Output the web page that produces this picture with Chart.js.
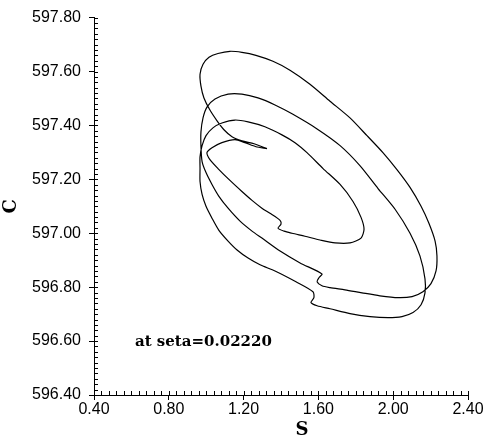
<!DOCTYPE html>
<html><head><meta charset="utf-8">
<script src="https://cdn.jsdelivr.net/npm/chart.js@4/dist/chart.umd.min.js"></script>
<style>html,body{margin:0;padding:0;background:#fff}canvas{display:block}</style>
</head><body>
<canvas id="c" width="492" height="439"></canvas>
<script>
// Trajectory in the (S, C) plane
const sValues = [
1.325,1.256,1.191,1.138,1.095,1.058,1.020,0.988,0.972,0.967,
0.983,1.015,1.063,1.127,1.191,1.266,1.357,1.448,1.555,1.662,
1.769,1.860,1.945,2.020,2.090,2.149,2.191,2.224,2.234,2.229,
2.202,2.159,2.101,2.026,1.929,1.833,1.742,1.662,1.619,1.593,
1.603,1.619,1.502,1.395,1.298,1.245,1.181,1.117,1.068,1.031,
0.999,0.978,0.972,0.972,0.983,1.004,1.047,1.117,1.191,1.277,
1.368,1.459,1.593,1.716,1.822,1.919,2.010,2.090,2.143,2.170,
2.170,2.149,2.106,2.047,1.972,1.876,1.769,1.662,1.593,1.560,
1.576,1.571,1.480,1.368,1.288,1.224,1.165,1.117,1.068,1.031,
0.999,0.978,0.967,0.967,0.967,0.978,0.999,1.036,1.084,1.154,
1.224,1.314,1.405,1.475,1.539,1.625,1.716,1.785,1.828,1.844,
1.828,1.769,1.689,1.609,1.528,1.459,1.416,1.384,1.400,1.395,
1.341,1.298,1.245,1.191,1.127,1.063,1.020,1.004,1.031,1.084,
1.154,1.207,1.266,1.325
];
const cValues = [
597.314,597.332,597.343,597.358,597.384,597.417,597.457,597.502,597.546,597.590,
597.627,597.653,597.667,597.675,597.671,597.660,597.638,597.605,597.553,597.490,
597.428,597.362,597.299,597.236,597.170,597.100,597.037,596.971,596.916,596.860,
596.813,596.783,596.765,596.761,596.768,596.779,596.790,596.798,596.805,596.820,
596.835,596.849,596.890,596.934,596.982,597.008,597.045,597.093,597.137,597.181,
597.225,597.266,597.321,597.376,597.428,597.468,597.498,597.516,597.516,597.502,
597.476,597.443,597.387,597.325,597.251,597.166,597.089,597.000,596.916,596.831,
596.779,596.735,596.706,596.691,596.687,596.691,596.702,596.720,596.731,596.743,
596.761,596.783,596.820,596.860,596.883,596.908,596.938,596.971,597.011,597.056,
597.100,597.144,597.192,597.240,597.284,597.325,597.362,597.391,597.409,597.420,
597.413,597.395,597.365,597.336,597.299,597.240,597.181,597.118,597.059,597.015,
596.982,596.964,596.964,596.975,596.989,597.000,597.008,597.019,597.034,597.048,
597.074,597.093,597.122,597.155,597.196,597.240,597.273,597.299,597.317,597.336,
597.347,597.336,597.321,597.314
];
const xTicks = [0.40, 0.80, 1.20, 1.60, 2.00, 2.40];
const yTicks = [596.40, 596.60, 596.80, 597.00, 597.20, 597.40, 597.60, 597.80];
const xMinorStep = 0.04;
const yMinorStep = 0.02;
const xTitle = 'S';
const yTitle = 'C';
const noteText = 'at seta=0.02220';

const points = sValues.map((s, i) => ({x: s, y: cValues[i]}));

const extras = {
  id: 'extras',
  afterDraw(chart) {
    const {ctx, scales: {x, y}} = chart;
    ctx.save();
    ctx.strokeStyle = '#000';
    ctx.lineWidth = 1;
    ctx.beginPath();
    const nx = Math.round((xTicks[xTicks.length-1] - xTicks[0]) / xMinorStep);
    for (let i = 0; i <= nx; i++) {
      const px = Math.round(x.getPixelForValue(xTicks[0] + i * xMinorStep)) + 0.5;
      ctx.moveTo(px, y.bottom);
      ctx.lineTo(px, y.bottom - 4);
    }
    const ny = Math.round((yTicks[yTicks.length-1] - yTicks[0]) / yMinorStep);
    for (let i = 0; i <= ny; i++) {
      const py = Math.round(y.getPixelForValue(yTicks[0] + i * yMinorStep)) + 0.5;
      ctx.moveTo(x.left, py);
      ctx.lineTo(x.left + 4, py);
    }
    ctx.stroke();
    ctx.fillStyle = '#000';
    // annotation
    ctx.font = 'bold 15px "DejaVu Serif"';
    ctx.textBaseline = 'middle';
    ctx.textAlign = 'left';
    ctx.fillText(noteText, x.left + 41, y.bottom - 53);
    // x-axis title
    ctx.font = 'bold 18px "DejaVu Serif"';
    ctx.textAlign = 'center';
    ctx.fillText(xTitle, x.left + 208, chart.height - 9);
    ctx.restore();
  }
};

new Chart(document.getElementById('c'), {
  type: 'scatter',
  data: {
    datasets: [{
      data: points,
      showLine: true,
      pointRadius: 0,
      borderColor: '#000',
      borderWidth: 1.2,
      tension: 0.25,
      fill: false
    }]
  },
  options: {
    responsive: false,
    animation: false,
    devicePixelRatio: 1,
    layout: {padding: {top: 15, right: 24, left: 0, bottom: 0}},
    plugins: {legend: {display: false}, tooltip: {enabled: false}},
    scales: {
      x: {
        type: 'linear',
        min: 0.4, max: 2.4,
        afterBuildTicks: s => { s.ticks = xTicks.map(v => ({value: v})); },
        afterFit: s => { s.height = 44; },
        ticks: {
          callback: v => Number(v).toFixed(2),
          color: '#000',
          font: {family: '"Liberation Sans", Arial, sans-serif', size: 16},
          padding: 0,
          maxRotation: 0,
          autoSkip: false
        },
        grid: {display: true, drawOnChartArea: false, drawTicks: true, tickLength: 5, color: '#000'},
        border: {display: true, color: '#000', width: 1},
        title: {display: false, text: xTitle}
      },
      y: {
        type: 'linear',
        min: 596.4, max: 597.8,
        afterBuildTicks: s => { s.ticks = yTicks.map(v => ({value: v})); },
        afterFit: s => { s.width = 94; },
        ticks: {
          callback: v => Number(v).toFixed(2),
          color: '#000',
          font: {family: '"Liberation Sans", Arial, sans-serif', size: 16},
          padding: 8,
          autoSkip: false
        },
        grid: {display: true, drawOnChartArea: false, drawTicks: true, tickLength: 5, color: '#000'},
        border: {display: true, color: '#000', width: 1},
        title: {display: true, text: yTitle, color: '#000',
          font: {family: '"DejaVu Serif", serif', size: 18, weight: 'bold'},
          padding: {top: 1, bottom: 0}}
      }
    }
  },
  plugins: [extras]
});
</script>
</body></html>
